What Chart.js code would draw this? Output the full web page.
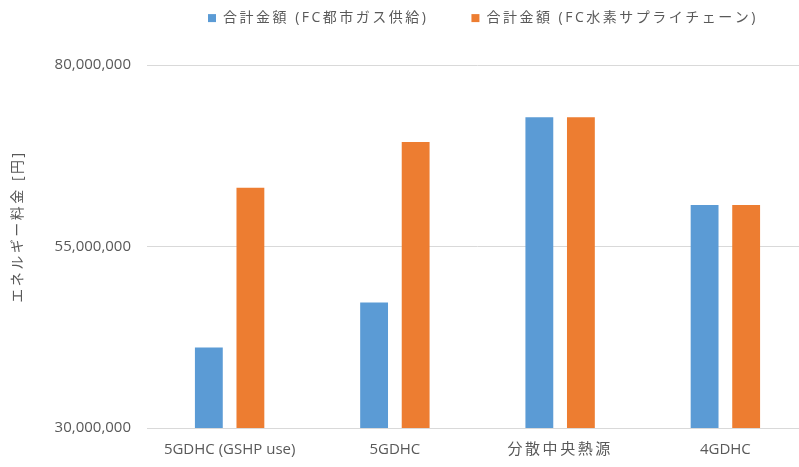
<!DOCTYPE html>
<html>
<head>
<meta charset="utf-8">
<script src="https://cdn.jsdelivr.net/npm/chart.js@4/dist/chart.umd.min.js"></script>
<style>
  html, body { margin: 0; padding: 0; background: #ffffff; overflow: hidden; }
  #wrap { position: relative; width: 808px; height: 467px; }
</style>
</head>
<body>
<div id="wrap"><canvas id="chart"></canvas></div>
<script>
// Energy cost per heating/cooling system (yen)
const categories = ['5GDHC (GSHP use)', '5GDHC', '分散中央熱源', '4GDHC'];
const seriesNames = ['合計金額 (FC都市ガス供給)', '合計金額 (FC水素サプライチェーン)'];
const cityGasFC = [41100000, 47300000, 72800000, 60700000];
const hydrogenFC = [63100000, 69400000, 72800000, 60700000];
const yTicks = [30000000, 55000000, 80000000];
const yTitle = 'エネルギー料金 [円]';

const textColor = '#595959';
const gridColor = '#d9d9d9';
const fontFamily = '"Open Sans", "Noto Sans CJK JP", sans-serif';

// Japanese strings are set with a little extra tracking
const canvas = document.getElementById('chart');
const ctx2d = canvas.getContext('2d');
const cjk = /[\u3000-\u30ff\u4e00-\u9fff\uff00-\uffef]/;
const tracking = '2.5px';
const origFill = ctx2d.fillText;
const origMeasure = ctx2d.measureText;
ctx2d.fillText = function (text, ...rest) {
  if (cjk.test(String(text))) {
    const prev = this.letterSpacing;
    this.letterSpacing = tracking;
    origFill.call(this, text, ...rest);
    this.letterSpacing = prev;
  } else {
    origFill.call(this, text, ...rest);
  }
};
ctx2d.measureText = function (text) {
  if (cjk.test(String(text))) {
    const prev = this.letterSpacing;
    this.letterSpacing = tracking;
    const m = origMeasure.call(this, text);
    this.letterSpacing = prev;
    return m;
  }
  return origMeasure.call(this, text);
};

// Legend: reserve room above the plot, then place the row of items
const legendPlacement = {
  id: 'legendPlacement',
  beforeInit(chart) {
    const origFit = chart.legend.fit;
    chart.legend.fit = function () {
      origFit.call(this);
      this.height = 65;
    };
  },
  afterLayout(chart) {
    const lg = chart.legend;
    const pad = lg.options.labels.padding;
    const lineH = 14 * 1.2;
    lg.left = 208 - pad;
    lg.right = chart.width;
    lg.top = 19.5 - lineH / 2 - pad;
    lg.bottom = 60;
  },
  beforeDraw(chart) {
    // axis title sits a little above the middle of the value axis
    const s = chart.scales.y;
    if (!s._titleShift) {
      const orig = s.drawTitle;
      s.drawTitle = function () {
        this.ctx.save();
        this.ctx.translate(0, -20);
        orig.apply(this, arguments);
        this.ctx.restore();
      };
      s._titleShift = true;
    }
  }
};

new Chart(canvas, {
  type: 'bar',
  data: {
    labels: categories,
    datasets: [
      { label: seriesNames[0], data: cityGasFC, backgroundColor: '#5b9bd5',
        categoryPercentage: 0.503, barPercentage: 0.67 },
      { label: seriesNames[1], data: hydrogenFC, backgroundColor: '#ed7d31',
        categoryPercentage: 0.503, barPercentage: 0.67 }
    ]
  },
  options: {
    responsive: true,
    maintainAspectRatio: false,
    animation: false,
    layout: { padding: 0 },
    plugins: {
      tooltip: { enabled: false },
      legend: {
        position: 'top',
        align: 'start',
        labels: {
          boxWidth: 8,
          boxHeight: 8,
          padding: 43,
          color: textColor,
          font: { family: fontFamily, size: 14 }
        }
      }
    },
    scales: {
      x: {
        grid: { display: false, drawTicks: false },
        border: { display: true, color: gridColor, width: 1 },
        ticks: {
          color: textColor,
          padding: 13,
          maxRotation: 0,
          font: { family: fontFamily, size: 15 }
        },
        afterFit(scale) { scale.height = 39; }
      },
      y: {
        min: 30000000,
        max: 80000000,
        afterBuildTicks(scale) { scale.ticks = yTicks.map(v => ({ value: v })); },
        grid: { color: gridColor, drawTicks: false },
        border: { display: false },
        ticks: {
          color: textColor,
          padding: 16,
          font: { family: fontFamily, size: 15 },
          callback: v => Number(v).toLocaleString('en-US')
        },
        title: {
          display: true,
          text: yTitle,
          color: textColor,
          padding: { top: 10, bottom: 0 },
          font: { family: fontFamily, size: 14 }
        },
        afterFit(scale) { scale.width = 147; }
      }
    }
  },
  plugins: [legendPlacement]
});
</script>
</body>
</html>
